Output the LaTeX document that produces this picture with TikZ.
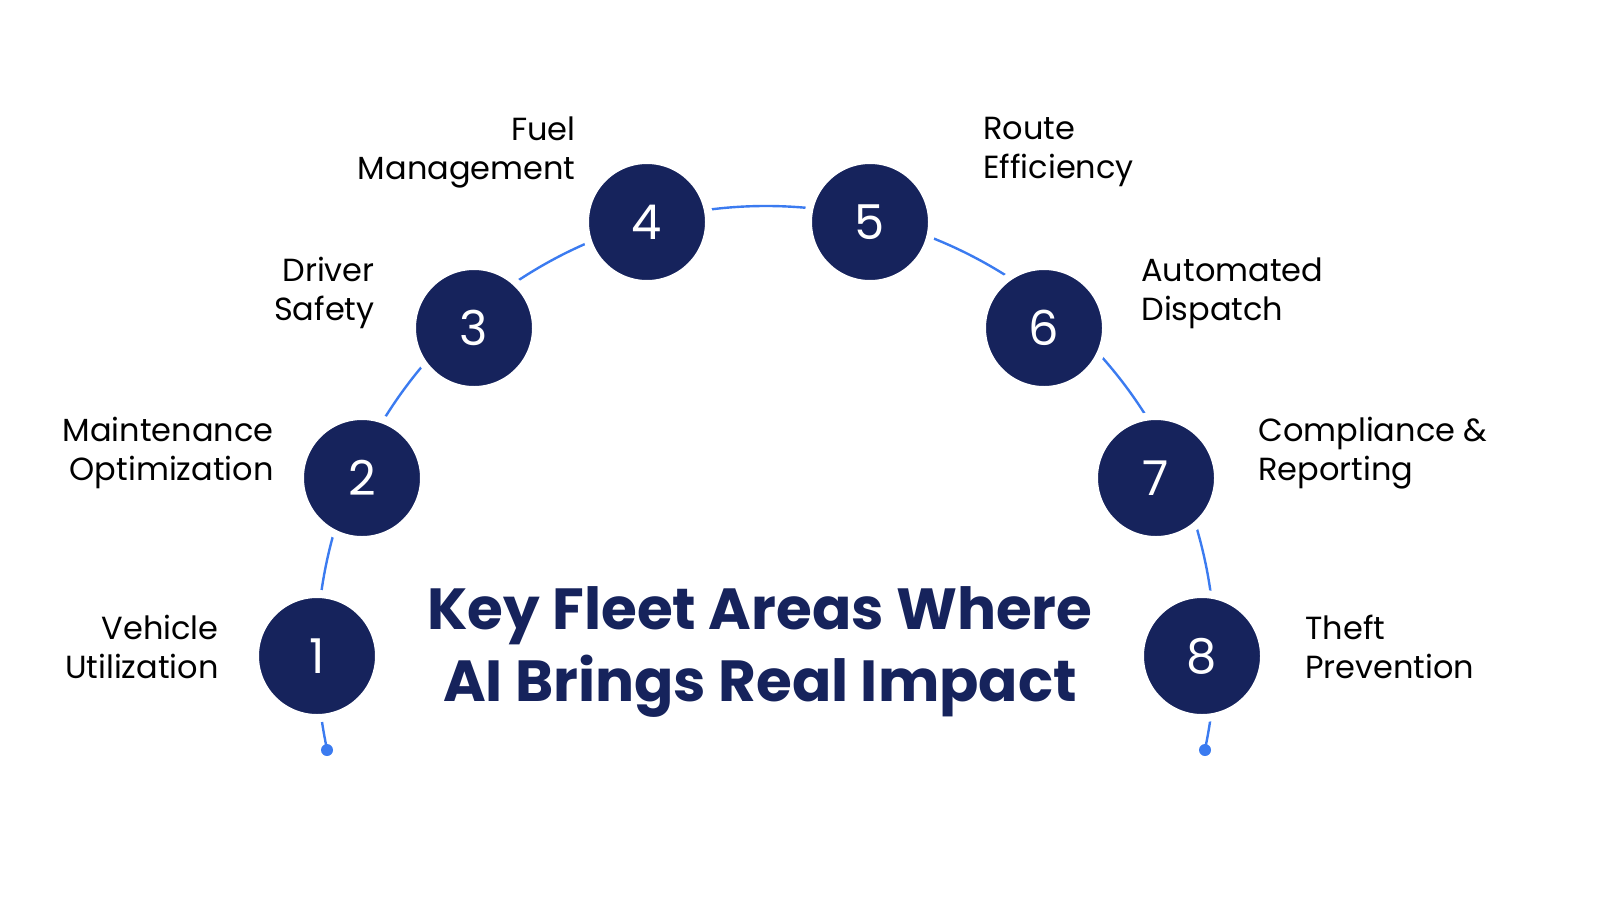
\documentclass[tikz,border=0pt]{standalone}
\usepackage{fontspec}
\setmainfont{Poppins}
\definecolor{navy}{HTML}{16235C}
\definecolor{arcblue}{HTML}{3B7BF0}
\begin{document}
\begin{tikzpicture}[x=0.5pt,y=-0.5pt,
  num/.style={circle,fill=navy,draw=white,line width=4pt,minimum size=62pt,inner sep=0pt,text=white,font=\fontsize{24}{26}\selectfont},
  lab/.style={font=\fontsize{16}{19.5}\selectfont,text=black,inner sep=0pt,align=#1},
  dot/.style={circle,fill=arcblue,inner sep=0pt,minimum size=6pt}]
\useasboundingbox (0,0) rectangle (1600,900);
\draw[arcblue,line width=1.2pt] (766,655) ++(168:449) arc[start angle=168,end angle=372,radius=449];
\node[dot] (d1) at (327,750) {};
\node[dot] (d8) at (1205,750) {};
\node[num] (n1) at (317,656) {1};
\node[num] (n2) at (362,478) {2};
\node[num] (n3) at (474,328) {3};
\node[num] (n4) at (647,222) {4};
\node[num] (n5) at (870,222) {5};
\node[num] (n6) at (1044,328) {6};
\node[num] (n7) at (1156,478) {7};
\node[num] (n8) at (1202,656) {8};
\node[lab=right,anchor=east] (l4) at (576,152) {Fuel\\Management};
\node[lab=right,anchor=east] (l3) at (375,293) {Driver\\Safety};
\node[lab=right,anchor=east] (l2) at (274,453) {Maintenance\\Optimization};
\node[lab=right,anchor=east] (l1) at (219,647) {Vehicle\\Utilization};
\node[lab=left,anchor=west] (l5) at (983,152) {Route\\Efficiency};
\node[lab=left,anchor=west] (l6) at (1141,293) {Automated\\Dispatch};
\node[lab=left,anchor=west] (l7) at (1258,453) {Compliance \&\\Reporting};
\node[lab=left,anchor=west] (l8) at (1305,647) {Theft\\Prevention};
\node[font=\fontsize{29}{36}\selectfont\bfseries,text=navy,align=center] (t) at (760,652) {Key Fleet Areas Where\\AI Brings Real Impact};
\end{tikzpicture}
\end{document}
